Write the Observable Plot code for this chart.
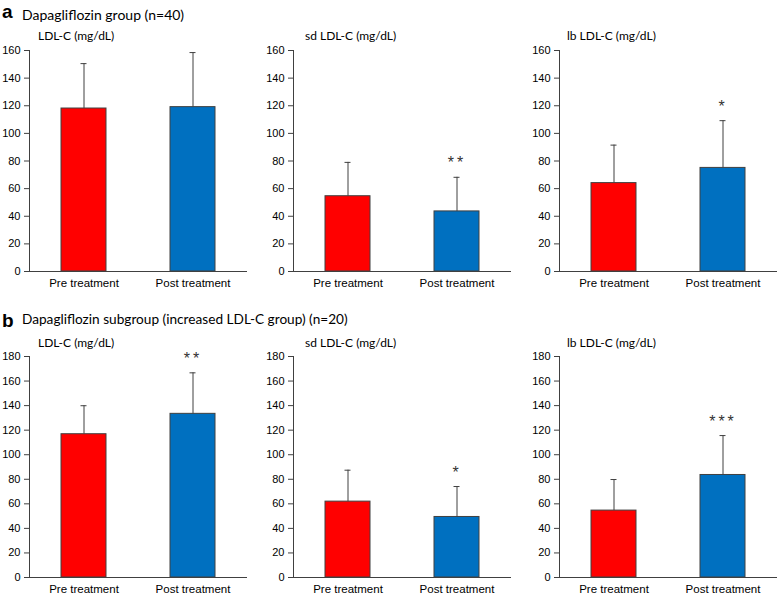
<!DOCTYPE html>
<html><head><meta charset="utf-8">
<script src="https://cdn.jsdelivr.net/npm/d3@7"></script>
<script src="https://cdn.jsdelivr.net/npm/@observablehq/plot@0.6"></script>
<style>
body{margin:0;background:#fff;}
#root{position:relative;width:780px;height:598px;overflow:hidden;background:#fff;}
.abs{position:absolute;white-space:nowrap;line-height:normal;color:#000;}
.letter{font-family:"Liberation Sans",Arial,sans-serif;font-weight:bold;font-size:19px;}
.rowtitle{font-family:Lato,"Open Sans",sans-serif;font-size:14px;}
.sub{font-family:Lato,"Open Sans",sans-serif;font-size:12px;}
.panel{position:absolute;width:253px;height:263px;}
</style></head><body><div id="root"></div>
<script>
// ---- data ----
const groups = ["Pre treatment", "Post treatment"];
const rowLetters = ["a", "b"];
const rowTitles = ["Dapagliflozin group (n=40)", "Dapagliflozin subgroup (increased LDL-C group) (n=20)"];
const panelTitles = ["LDL-C (mg/dL)", "sd LDL-C (mg/dL)", "lb LDL-C (mg/dL)"];
const yTicksA = [0, 20, 40, 60, 80, 100, 120, 140, 160];
const yTicksB = [0, 20, 40, 60, 80, 100, 120, 140, 160, 180];
// row a: Dapagliflozin group (n=40)
const meanA_LDL = [118, 119];   const sdA_LDL = [32.5, 39.5];  const starA_LDL = ["", ""];
const meanA_sd  = [54.5, 43.5]; const sdA_sd  = [24.5, 24.7];  const starA_sd  = ["", "**"];
const meanA_lb  = [64, 75];     const sdA_lb  = [27.5, 34.2];  const starA_lb  = ["", "*"];
// row b: subgroup (n=20)
const meanB_LDL = [116.7, 133.3]; const sdB_LDL = [23.2, 33.4]; const starB_LDL = ["", "**"];
const meanB_sd  = [61.8, 49.3];   const sdB_sd  = [25.6, 24.8]; const starB_sd  = ["", "*"];
const meanB_lb  = [54.5, 83.5];   const sdB_lb  = [25.3, 32.1]; const starB_lb  = ["", "***"];

const rows = [
  {ticks: yTicksA, top: 30, panels: [[meanA_LDL, sdA_LDL, starA_LDL], [meanA_sd, sdA_sd, starA_sd], [meanA_lb, sdA_lb, starA_lb]]},
  {ticks: yTicksB, top: 336, panels: [[meanB_LDL, sdB_LDL, starB_LDL], [meanB_sd, sdB_sd, starB_sd], [meanB_lb, sdB_lb, starB_lb]]}
];
const panelLefts = [0, 264, 530];
const axisCol = "#404040";

const root = document.getElementById("root");

function makePanel(means, sds, stars, ticks) {
  const data = groups.map((g, i) => ({group: g, mean: means[i], top: means[i] + sds[i], star: stars[i]}));
  const svg = Plot.plot({
    width: 253, height: 263,
    marginLeft: 29, marginRight: 6, marginTop: 20, marginBottom: 22,
    style: {fontFamily: "'Liberation Sans', Arial, sans-serif", fontSize: "11px", color: "#000", background: "transparent", overflow: "visible", maxWidth: "none"},
    x: {domain: groups, paddingInner: 0.59, paddingOuter: 0.295, axis: null},
    y: {domain: [0, ticks[ticks.length - 1]], axis: null},
    color: {domain: groups, range: ["#FF0000", "#0070C0"]},
    marks: [
      Plot.barY(data, {x: "group", y: "mean", fill: "group", stroke: axisCol, strokeWidth: 1}),
      Plot.ruleX(data, {x: "group", y1: "mean", y2: "top", stroke: axisCol, strokeWidth: 1}),
      Plot.tickY(data, {x: "group", y: "top", stroke: axisCol, strokeWidth: 1, insetLeft: 19.5, insetRight: 19.5}),
      Plot.text(data, {x: "group", y: "top", text: "star", dy: -14, fontSize: 16, fill: "#333"}),
      Plot.axisY({ticks: ticks, tickSize: 5, tickPadding: 4, stroke: axisCol, fill: "#000", fontSize: 11, label: null}),
      Plot.axisX({tickSize: 0, tickPadding: 7, fill: "#000", fontSize: 11.5, label: null}),
      Plot.frame({anchor: "left", stroke: axisCol}),
      Plot.ruleY([0], {stroke: axisCol})
    ]
  });
  d3.select(svg).selectAll("g[aria-label='text'] text").attr("letter-spacing", "3px");
  return svg;
}

function addText(cls, txt, left, top, size) {
  const d = document.createElement("div");
  d.className = "abs " + cls;
  d.textContent = txt;
  d.style.left = left + "px";
  d.style.top = top + "px";
  if (size) d.style.fontSize = size + "px";
  root.appendChild(d);
}

rows.forEach((row, r) => {
  row.panels.forEach((p, k) => {
    const wrap = document.createElement("div");
    wrap.className = "panel";
    wrap.style.left = panelLefts[k] + "px";
    wrap.style.top = row.top + "px";
    wrap.appendChild(makePanel(p[0], p[1], p[2], row.ticks));
    root.appendChild(wrap);
  });
});

// titles
const letterTops = [1, 309.5];
const titleTops = [5.5, 311.4];
const titleSizes = [14, 13.65];
const subTops = [28, 334.5];
const subLefts = [38, 305, 567];
rows.forEach((row, r) => {
  addText("letter", rowLetters[r], 2, letterTops[r]);
  addText("rowtitle", rowTitles[r], 22, titleTops[r], titleSizes[r]);
  panelTitles.forEach((t, k) => addText("sub", t, subLefts[k], subTops[r]));
});
</script></body></html>
